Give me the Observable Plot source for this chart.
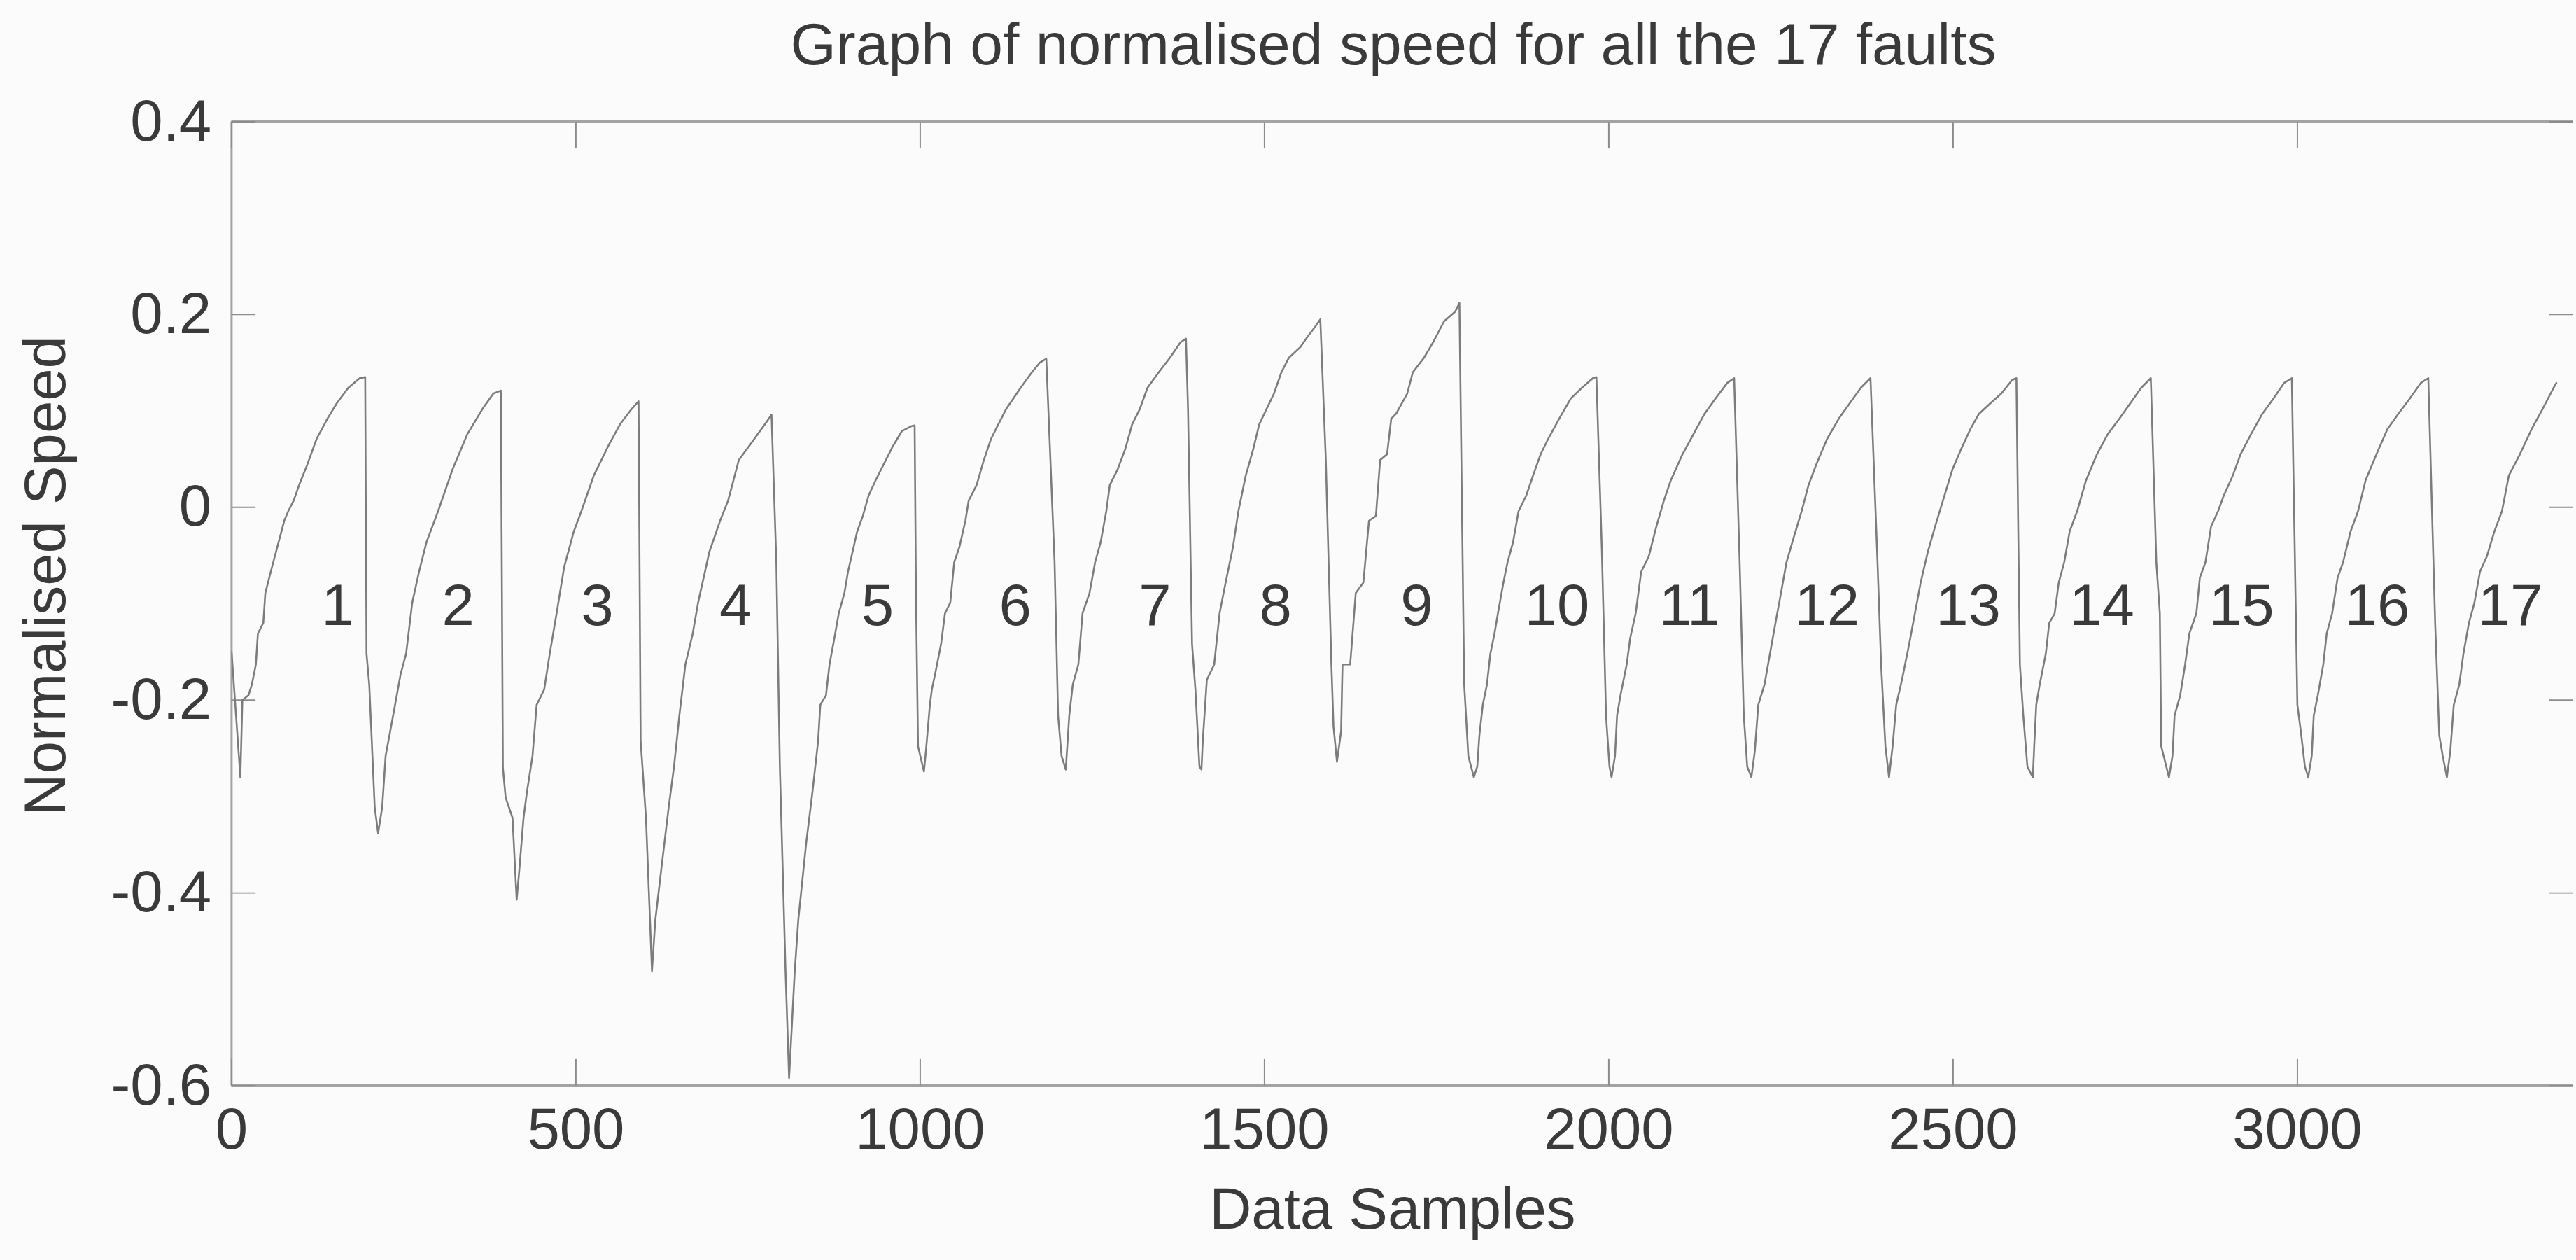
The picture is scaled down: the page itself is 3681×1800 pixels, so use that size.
<!DOCTYPE html>
<html><head><meta charset="utf-8">
<script src="https://cdn.jsdelivr.net/npm/d3@7"></script>
<script src="https://cdn.jsdelivr.net/npm/@observablehq/plot@0.6"></script>
<style>
html,body{margin:0;padding:0;background:#fbfbfb;overflow:hidden;}
#page{position:relative;width:3681px;height:1800px;overflow:hidden;background:#fbfbfb;font-family:"Liberation Sans",Arial,Helvetica,sans-serif;}
#title{position:relative;height:100px;}
#title span{position:absolute;left:1991px;top:21px;transform:translateX(-50%);font-size:84px;line-height:84px;color:#3a3a3a;white-space:nowrap;}
#chart svg{display:block;}
</style></head><body>
<div id="page"><div id="title"><span id="titleText"></span></div><div id="chart"></div></div>
<script>
const titleText = "Graph of normalised speed for all the 17 faults";
const xLabel = "Data Samples";
const yLabel = "Normalised Speed";
const xTicks = [0, 500, 1000, 1500, 2000, 2500, 3000];
const xTickLabels = ["0", "500", "1000", "1500", "2000", "2500", "3000"];
const yTicks = [-0.6, -0.4, -0.2, 0, 0.2, 0.4];
const yTickLabels = ["-0.6", "-0.4", "-0.2", "0", "0.2", "0.4"];

// fault number labels (text) and their sample positions / speed level
const faultNames = ["1","2","3","4","5","6","7","8","9","10","11","12","13","14","15","16","17"];
const faultLabelX = [154, 329, 531, 732, 938, 1138, 1341, 1516, 1721, 1925, 2117, 2317, 2522, 2716, 2919, 3116, 3309];
const faultLabelY = -0.103;

// sample index where each fault's record begins
const faultStart = [0, 196, 394, 594, 788, 994, 1185, 1388, 1583, 1785, 1985, 2185, 2385, 2594, 2792, 2996, 3194];

// [offset within fault (0-200), normalised speed]
const fault01 = [[0,-0.15],[13,-0.28],[16,-0.2],[25,-0.195],[30,-0.184],[36,-0.163],[39,-0.131],[47,-0.12],[50,-0.089],[58,-0.067],[64,-0.051],[72,-0.03],[78,-0.014],[84,-0.004],[92,0.007],[100,0.023],[112,0.044],[126,0.071],[142,0.092],[156,0.108],[173,0.124],[190,0.134],[198,0.135]];
const fault02 = [[0,-0.152],[4,-0.184],[12,-0.311],[17,-0.338],[23,-0.311],[28,-0.258],[39,-0.216],[50,-0.173],[58,-0.152],[67,-0.099],[77,-0.067],[88,-0.036],[105,-0.004],[126,0.039],[148,0.076],[170,0.102],[186,0.118],[197,0.121]];
const fault03 = [[0,-0.27],[4,-0.301],[14,-0.322],[20,-0.407],[24,-0.375],[30,-0.322],[35,-0.295],[43,-0.258],[49,-0.205],[60,-0.189],[68,-0.152],[78,-0.11],[89,-0.062],[103,-0.025],[114,-0.004],[132,0.033],[154,0.065],[170,0.086],[187,0.102],[197,0.11]];
const fault04 = [[0,-0.242],[8,-0.322],[17,-0.481],[22,-0.428],[31,-0.375],[42,-0.311],[50,-0.269],[58,-0.216],[67,-0.163],[78,-0.131],[86,-0.099],[103,-0.046],[119,-0.014],[131,0.007],[147,0.049],[164,0.065],[186,0.086],[196,0.096]];
const fault05 = [[3,-0.057],[8,-0.269],[16,-0.481],[21,-0.592],[29,-0.481],[34,-0.428],[45,-0.349],[54,-0.295],[62,-0.242],[65,-0.205],[73,-0.195],[78,-0.163],[86,-0.131],[91,-0.11],[99,-0.089],[104,-0.067],[109,-0.051],[117,-0.025],[125,-0.009],[133,0.012],[143,0.028],[154,0.044],[167,0.063],[180,0.079],[193,0.084],[198,0.085]];
const fault06 = [[0,-0.099],[3,-0.248],[12,-0.274],[15,-0.253],[21,-0.205],[24,-0.189],[29,-0.173],[38,-0.142],[44,-0.11],[52,-0.099],[58,-0.057],[66,-0.041],[75,-0.014],[80,0.007],[92,0.023],[103,0.049],[114,0.071],[125,0.086],[137,0.102],[148,0.113],[159,0.124],[176,0.14],[188,0.15],[198,0.154]];
const fault07 = [[10,-0.057],[15,-0.216],[20,-0.258],[26,-0.272],[31,-0.216],[36,-0.184],[44,-0.163],[50,-0.11],[60,-0.089],[68,-0.057],[76,-0.036],[84,-0.004],[89,0.023],[100,0.039],[111,0.06],[121,0.086],[132,0.102],[143,0.124],[159,0.14],[175,0.155],[190,0.171],[198,0.175]];
const fault08 = [[1,0.102],[7,-0.142],[12,-0.189],[18,-0.269],[21,-0.272],[23,-0.242],[29,-0.179],[40,-0.163],[48,-0.11],[57,-0.078],[68,-0.041],[76,-0.004],[87,0.033],[98,0.06],[107,0.086],[118,0.102],[129,0.118],[140,0.14],[151,0.155],[168,0.166],[179,0.177],[190,0.187],[198,0.195]];
const fault09 = [[6,0.049],[14,-0.163],[17,-0.227],[22,-0.264],[28,-0.232],[30,-0.163],[41,-0.163],[49,-0.089],[60,-0.078],[68,-0.014],[78,-0.009],[84,0.049],[94,0.055],[100,0.092],[107,0.097],[123,0.118],[131,0.14],[147,0.155],[160,0.171],[176,0.193],[192,0.203],[198,0.212]];
const fault10 = [[5,-0.184],[11,-0.258],[19,-0.28],[24,-0.269],[27,-0.237],[32,-0.205],[38,-0.184],[43,-0.152],[49,-0.131],[54,-0.11],[62,-0.078],[68,-0.057],[76,-0.036],[84,-0.004],[95,0.012],[105,0.033],[116,0.055],[127,0.071],[143,0.092],[160,0.113],[176,0.124],[192,0.134],[197,0.135]];
const fault11 = [[5,-0.046],[11,-0.216],[16,-0.269],[19,-0.28],[24,-0.258],[27,-0.216],[32,-0.195],[41,-0.163],[46,-0.136],[54,-0.11],[62,-0.067],[73,-0.051],[84,-0.02],[95,0.007],[105,0.028],[122,0.055],[138,0.076],[154,0.097],[170,0.113],[187,0.129],[197,0.134]];
const fault12 = [[5,-0.057],[11,-0.216],[16,-0.269],[22,-0.28],[27,-0.253],[32,-0.205],[41,-0.184],[49,-0.152],[57,-0.12],[65,-0.089],[73,-0.057],[84,-0.03],[95,-0.004],[105,0.023],[116,0.044],[132,0.071],[149,0.092],[165,0.108],[181,0.124],[195,0.134]];
const fault13 = [[5,-0.057],[10,-0.163],[16,-0.248],[21,-0.28],[26,-0.248],[31,-0.205],[39,-0.179],[49,-0.142],[57,-0.11],[65,-0.078],[75,-0.046],[85,-0.02],[98,0.012],[109,0.039],[121,0.06],[134,0.081],[146,0.097],[162,0.108],[177,0.118],[192,0.132],[198,0.134]];
const fault14 = [[3,-0.163],[8,-0.216],[14,-0.269],[22,-0.28],[24,-0.248],[27,-0.205],[32,-0.184],[41,-0.152],[46,-0.12],[54,-0.11],[60,-0.078],[68,-0.057],[76,-0.025],[87,-0.004],[100,0.028],[116,0.055],[132,0.076],[149,0.092],[165,0.108],[181,0.124],[195,0.134]];
const fault15 = [[3,-0.057],[8,-0.11],[10,-0.248],[21,-0.28],[26,-0.258],[29,-0.216],[37,-0.195],[44,-0.163],[50,-0.131],[60,-0.11],[65,-0.073],[73,-0.057],[81,-0.02],[91,-0.004],[99,0.012],[112,0.033],[123,0.055],[138,0.076],[154,0.097],[170,0.113],[185,0.129],[196,0.134]];
const fault16 = [[4,-0.205],[9,-0.232],[15,-0.269],[20,-0.28],[25,-0.258],[28,-0.216],[34,-0.195],[42,-0.163],[47,-0.131],[55,-0.11],[63,-0.073],[71,-0.057],[82,-0.025],[93,-0.004],[104,0.028],[120,0.055],[136,0.081],[152,0.097],[169,0.113],[185,0.129],[196,0.134]];
const fault17 = [[6,-0.12],[12,-0.237],[17,-0.258],[23,-0.28],[28,-0.253],[33,-0.205],[41,-0.184],[47,-0.152],[55,-0.12],[63,-0.099],[71,-0.067],[81,-0.051],[92,-0.025],[103,-0.004],[113,0.033],[129,0.055],[146,0.081],[162,0.102],[178,0.124],[182,0.129]];

const faults = [fault01, fault02, fault03, fault04, fault05, fault06, fault07, fault08, fault09,
                fault10, fault11, fault12, fault13, fault14, fault15, fault16, fault17];

const data = faults.flatMap((pts, k) => {
  const end = k + 1 < faultStart.length ? faultStart[k + 1] : faultStart[k] + 200;
  const span = end - faultStart[k];
  return pts.map(([t, v]) => ({sample: faultStart[k] + t * span / 200, speed: v}));
});
const labels = faultNames.map((n, i) => ({name: n, x: faultLabelX[i], y: faultLabelY}));

document.getElementById("titleText").textContent = titleText;

const fontFamily = '"Liberation Sans", Arial, Helvetica, sans-serif';
const textColor = "#3a3a3a";
const frameColor = "#a3a3a3";
const tickColor = "#8c8c8c";
const fs = 84;

const chart = Plot.plot({
  width: 3710,
  height: 1700,
  marginLeft: 333,
  marginRight: 5,
  marginTop: 74,
  marginBottom: 238,
  style: {background: "transparent", fontFamily},
  x: {domain: [0, 3400], label: null},
  y: {domain: [-0.6, 0.4], label: null},
  marks: [
    Plot.ruleY([yTicks[0], yTicks[yTicks.length - 1]], {stroke: frameColor, strokeWidth: 4}),
    Plot.ruleX([xTicks[0]], {stroke: frameColor, strokeWidth: 3}),
    // inward tick marks (box style)
    Plot.axisX({anchor: "bottom", ticks: xTicks, tickSize: -38, tickFormat: () => "", stroke: tickColor, strokeWidth: 2, label: null}),
    Plot.axisX({anchor: "top", ticks: xTicks, tickSize: -38, tickFormat: () => "", stroke: tickColor, strokeWidth: 2, label: null}),
    Plot.axisY({anchor: "left", ticks: yTicks, tickSize: -35, tickFormat: () => "", stroke: tickColor, strokeWidth: 2, label: null}),
    Plot.axisY({anchor: "right", ticks: yTicks, tickSize: -35, tickFormat: () => "", stroke: tickColor, strokeWidth: 2, label: null}),
    // tick labels
    Plot.axisX({anchor: "bottom", ticks: xTicks, tickSize: 0, tickPadding: 31,
      tickFormat: d => xTickLabels[xTicks.indexOf(d)], fontSize: fs, fill: textColor, label: null}),
    Plot.axisY({anchor: "left", ticks: yTicks, tickSize: 0, tickPadding: 29,
      tickFormat: d => yTickLabels[yTicks.indexOf(d)], fontSize: fs, fill: textColor, label: null}),
    // the speed trace
    Plot.line(data, {x: "sample", y: "speed", stroke: "#7c7c7c", strokeWidth: 2.6, clip: true}),
    // fault numbers
    Plot.text(labels, {x: "x", y: "y", text: "name", fontSize: fs, fill: textColor}),
    // axis titles
    Plot.text([xLabel], {text: d => d, frameAnchor: "bottom", dx: -14, dy: 206, lineAnchor: "bottom", fontSize: fs, fill: textColor}),
    Plot.text([yLabel], {text: d => d, frameAnchor: "left", rotate: -90, dx: -240, dy: -40, lineAnchor: "bottom", textAnchor: "middle", fontSize: fs, fill: textColor})
  ]
});
document.getElementById("chart").appendChild(chart);
</script>
</body></html>
